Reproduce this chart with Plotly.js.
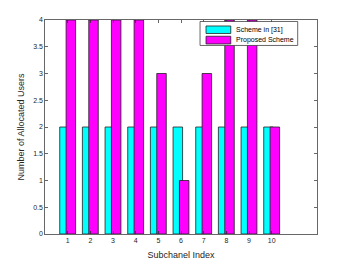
<!DOCTYPE html>
<html><head><meta charset="utf-8">
<script src="https://cdn.plot.ly/plotly-3.0.1.min.js"></script>
<style>html,body{margin:0;padding:0;background:#fff}#c{width:350px;height:263px}</style>
</head><body><div id="c"></div>
<script>
var subchannels = [1,2,3,4,5,6,7,8,9,10];
var schemeRef = [2,2,2,2,2,2,2,2,2,2];
var proposed = [4,4,4,4,3,1,3,4,4,2];
var seriesNames = ['Scheme in [31]', 'Proposed Scheme'];
var seriesColors = ['#00ffff', '#ff00ff'];
var yTicks = [0,0.5,1,1.5,2,2.5,3,3.5,4];
var yTickText = ['0','0.5','1','1.5','2','2.5','3','3.5','4'];

var FAM = 'Liberation Sans, Arial, sans-serif';
var fnt = {family:FAM, size:7, color:'#262626'};
var data = [
  {type:'bar', x:subchannels, y:schemeRef, name:seriesNames[0], offset:-0.35, width:0.42,
   marker:{color:seriesColors[0], line:{color:'#222', width:0.8}}},
  {type:'bar', x:subchannels, y:proposed, name:seriesNames[1], offset:-0.07, width:0.42,
   marker:{color:seriesColors[1], line:{color:'#222', width:0.8}}}
];
var axBase = {showgrid:false, zeroline:false, showline:true, linecolor:'#262626', linewidth:0.7,
  mirror:'ticks', ticks:'inside', ticklen:3, tickcolor:'#262626', tickwidth:0.7, tickfont:fnt};

// custom MATLAB-style legend (paper coords)
var box = {x0:0.570, x1:0.929, y0:0.881, y1:0.993};
var rows = [{y0:0.937, y1:0.972, yc:0.954}, {y0:0.888, y1:0.924, yc:0.906}];
var shapes = [{type:'rect', xref:'paper', yref:'paper', x0:box.x0, x1:box.x1, y0:box.y0, y1:box.y1,
  fillcolor:'#fff', line:{color:'#262626', width:0.7}, layer:'above'}];
var annotations = [];
rows.forEach(function(r, i){
  shapes.push({type:'rect', xref:'paper', yref:'paper', x0:0.592, x1:0.683, y0:r.y0, y1:r.y1,
    fillcolor:seriesColors[i], line:{color:'#222', width:0.8}, layer:'above'});
  annotations.push({xref:'paper', yref:'paper', x:0.694, y:r.yc, xanchor:'left', yanchor:'middle',
    text:seriesNames[i], showarrow:false, font:{family:FAM, size:7, color:'#000'}});
});

var layout = {
  width:350, height:263, margin:{l:45, r:33, t:20, b:29},
  paper_bgcolor:'#fff', plot_bgcolor:'#fff', barmode:'overlay', showlegend:false,
  font:fnt, shapes:shapes, annotations:annotations,
  xaxis: Object.assign({}, axBase, {range:[0,12], tickmode:'array', tickvals:subchannels,
    ticktext:subchannels.map(String),
    title:{text:'Subchanel Index', font:{family:FAM, size:9, color:'#262626'}, standoff:8}}),
  yaxis: Object.assign({}, axBase, {range:[0,4], tickmode:'array', tickvals:yTicks, ticktext:yTickText,
    title:{text:'Number of Allocated Users', font:{family:FAM, size:9, color:'#262626'}, standoff:6}})
};
Plotly.newPlot('c', data, layout, {staticPlot:true, displayModeBar:false});
</script></body></html>
